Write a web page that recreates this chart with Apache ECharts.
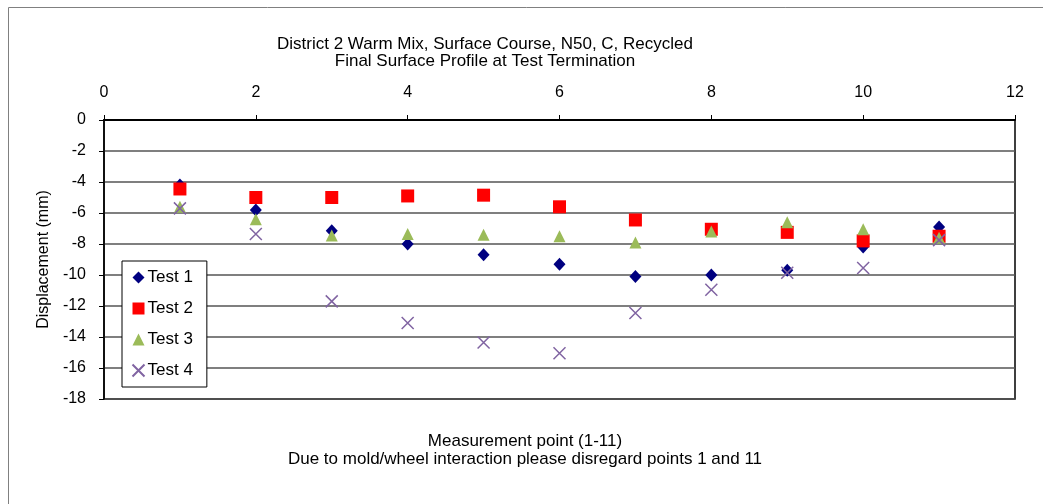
<!DOCTYPE html>
<html>
<head>
<meta charset="utf-8">
<script src="https://cdn.jsdelivr.net/npm/echarts@6/dist/echarts.min.js"></script>
<style>
  html, body { margin: 0; padding: 0; background: #fff; }
  #chart { width: 1043px; height: 504px; }
</style>
</head>
<body>
<div id="chart"></div>
<script>
// measurement points 1..11
const points = [1, 2, 3, 4, 5, 6, 7, 8, 9, 10, 11]
const test1 = [-4.2, -5.8, -7.15, -8.0, -8.7, -9.3, -10.1, -10.0, -9.7, -8.2, -6.9]
const test2 = [-4.45, -5.0, -5.0, -4.9, -4.85, -5.6, -6.45, -7.05, -7.25, -7.8, -7.5]
const test3 = [-5.6, -6.4, -7.45, -7.35, -7.4, -7.5, -7.9, -7.2, -6.6, -7.05, -7.6]
const test4 = [-5.7, -7.35, -11.7, -13.1, -14.35, -15.05, -12.45, -10.95, -9.85, -9.55, -7.75]

const font = 'Liberation Sans, Arial, sans-serif'

function pairs(vals) {
  return points.map((p, i) => [p, vals[i]])
}

const chart = echarts.init(document.getElementById('chart'))

chart.setOption({
  animation: false,
  textStyle: { fontFamily: font },
  graphic: [{
    type: 'rect',
    shape: { x: 8.5, y: 7.5, width: 1100, height: 600 },
    style: { fill: 'none', stroke: '#808080', lineWidth: 1 },
    silent: true
  }],
  title: [{
    text: 'District 2 Warm Mix, Surface Course, N50, C, Recycled\nFinal Surface Profile at Test Termination',
    left: 480,
    top: 31,
    textAlign: 'center',
    textStyle: { fontSize: 17, fontWeight: 'normal', color: '#000', lineHeight: 17, fontFamily: font }
  }, {
    text: 'Measurement point (1-11)\nDue to mold/wheel interaction please disregard points 1 and 11',
    left: 520,
    top: 427,
    textAlign: 'center',
    textStyle: { fontSize: 17, fontWeight: 'normal', color: '#000', lineHeight: 18, fontFamily: font }
  }],
  legend: {
    orient: 'vertical',
    left: 122,
    top: 261,
    padding: [8, 14, 8, 8],
    itemGap: 14,
    itemWidth: 12,
    itemHeight: 12,
    borderColor: '#000',
    borderWidth: 1,
    backgroundColor: '#fff',
    textStyle: { fontSize: 17, color: '#000', fontFamily: font, padding: [0, 0, 0, -2] },
    data: ['Test 1', 'Test 2', 'Test 3', 'Test 4']
  },
  grid: {
    left: 104,
    right: 28,
    top: 120,
    bottom: 105,
    show: true,
    borderColor: '#000',
    borderWidth: 1.5
  },
  xAxis: {
    type: 'value',
    position: 'top',
    min: 0,
    max: 12,
    interval: 2,
    axisLine: { show: true, onZero: false, lineStyle: { color: '#000', width: 2 } },
    axisTick: { show: true, inside: false, length: 5, lineStyle: { color: '#000' } },
    axisLabel: { fontSize: 16, color: '#000', margin: 19, fontFamily: font },
    splitLine: { show: false }
  },
  yAxis: {
    type: 'value',
    min: -18,
    max: 0,
    interval: 2,
    name: 'Displacement (mm)',
    nameLocation: 'middle',
    nameGap: 52,
    nameTextStyle: { fontSize: 16, color: '#000', fontFamily: font },
    axisLine: { show: true, lineStyle: { color: '#000', width: 1.5 } },
    axisTick: { show: true, length: 5, lineStyle: { color: '#000' } },
    axisLabel: { fontSize: 16, color: '#000', margin: 18, fontFamily: font },
    splitLine: { show: true, lineStyle: { color: '#555', width: 1.5 } }
  },
  series: [{
    name: 'Test 1',
    type: 'scatter',
    symbol: 'diamond',
    symbolSize: [12, 13],
    itemStyle: { color: '#000080', opacity: 1 },
    data: pairs(test1)
  }, {
    name: 'Test 2',
    type: 'scatter',
    symbol: 'rect',
    symbolSize: 13,
    itemStyle: { color: '#ff0000', opacity: 1 },
    data: pairs(test2)
  }, {
    name: 'Test 3',
    type: 'scatter',
    symbol: 'triangle',
    symbolSize: [12, 12],
    itemStyle: { color: '#9bbb59', opacity: 1 },
    data: pairs(test3)
  }, {
    name: 'Test 4',
    type: 'scatter',
    symbol: 'path://M0,0L10,10M10,0L0,10',
    symbolSize: 12,
    itemStyle: { color: 'none', borderColor: '#8064a2', borderWidth: 1.5, opacity: 1 },
    data: pairs(test4)
  }]
})
</script>
</body>
</html>
